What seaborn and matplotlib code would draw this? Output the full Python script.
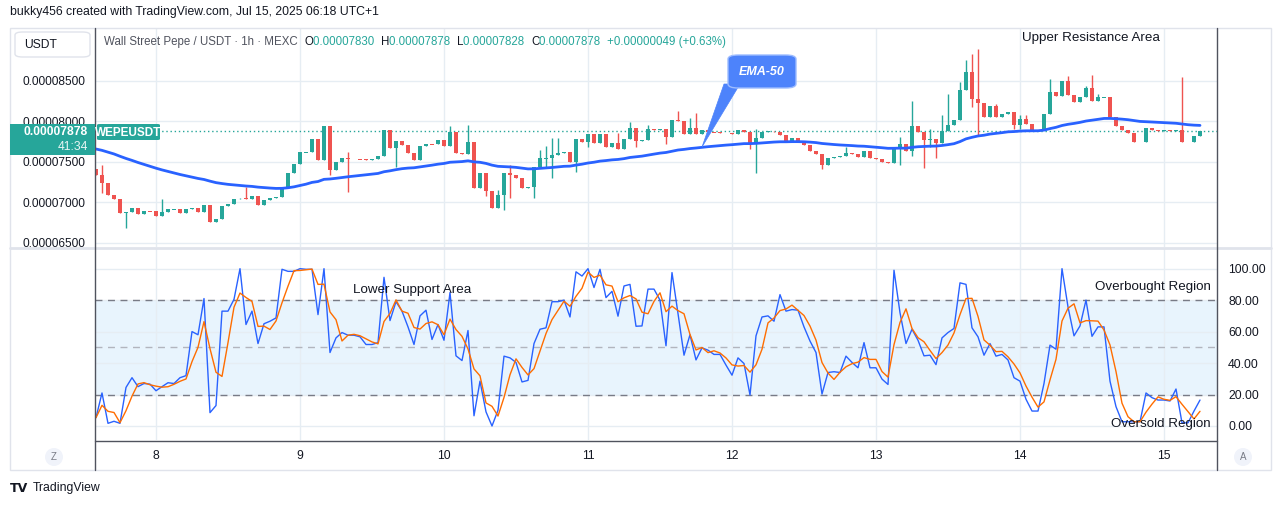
import numpy as np
import pandas as pd
import matplotlib
matplotlib.use("Agg")
import matplotlib.pyplot as plt
import seaborn as sns
from matplotlib.patches import Rectangle, FancyBboxPatch, Polygon, Ellipse
from matplotlib.lines import Line2D

W, H = 1281, 505
SCALE = 1e-8  # prices below are in units of 1e-8 USDT

# ---- data (WEPE/USDT 1h, MEXC) ----
first_open = 7410
closes = [
    7339, 7237, 7088, 7043, 6870, 6882, 6932, 6857, 6894, 6890,
    6837, 6882, 6915, 6919, 6874, 6925, 6932, 6882, 6969, 6762,
    6792, 6956, 6981, 7043, 7049, 7037, 7080, 6969, 7030, 7051,
    7064, 7195, 7360, 7471, 7619, 7623, 7784, 7524, 7944, 7401,
    7503, 7553, 7537, 7535, 7533, 7530, 7540, 7574, 7895, 7669,
    7759, 7710, 7607, 7524, 7697, 7722, 7716, 7771, 7697, 7866,
    7607, 7600, 7743, 7182, 7368, 7145, 6935, 7092, 7360, 7339,
    7298, 7182, 7195, 7442, 7545, 7550, 7586, 7615, 7620, 7503,
    7780, 7743, 7842, 7738, 7842, 7689, 7738, 7657, 7780, 7916,
    7763, 7771, 7903, 7898, 7905, 7812, 8015, 8007, 7846, 7916,
    7842, 7895, 7870, 7866, 7862, 7858, 7842, 7895, 7870, 7731,
    7800, 7874, 7878, 7870, 7833, 7750, 7792, 7750, 7706, 7640,
    7598, 7463, 7553, 7565, 7578, 7615, 7598, 7565, 7640, 7545,
    7540, 7503, 7491, 7681, 7722, 7640, 7944, 7874, 7771, 7780,
    7731, 7886, 7957, 8015, 8389, 8607, 8278, 8225, 8060, 8191,
    8052, 8092, 8121, 7957, 8027, 7965, 7886, 7895, 8092, 8368,
    8315, 8500, 8327, 8244, 8307, 8410, 8257, 8298, 8302, 8052,
    7944, 7895, 7854, 7750, 7745, 7916, 7895, 7886, 7890, 7880,
    7895, 7750, 7745, 7821, 7878,
]
# long wicks
hi_idx = [1, 11, 25, 42, 59, 62, 67, 69, 74, 75, 76, 77, 87, 89, 92, 97, 99, 100,
          110, 125, 134, 136, 139, 141, 142, 144, 145, 146, 147, 150, 154, 155,
          159, 162, 165, 166, 167, 181]
hi_val = [7463, 7043, 7195, 7627, 7944, 7957, 7154, 7463, 7648, 7697, 7796, 7796,
          7862, 7990, 7957, 8134, 8047, 8101, 7907, 7681, 7812, 8257, 7907, 8080,
          8339, 8492, 8759, 8829, 8895, 8216, 8080, 8080, 8520, 8566, 8442, 8574,
          8336, 8553]
lo_idx = [1, 5, 39, 42, 50, 65, 68, 69, 73, 75, 76, 80, 82, 90, 95, 109, 110, 121,
          134, 136, 138, 139, 140, 146, 147, 153, 154]
lo_val = [7120, 6685, 7339, 7133, 7442, 7080, 6907, 7055, 7055, 7442, 7302, 7380,
          7685, 7685, 7718, 7660, 7367, 7410, 7463, 7574, 7422, 7681, 7553, 8183,
          7821, 7903, 7903]
ema_seed = 7673  # EMA-50 value at the first visible bar

stoch_k = [
    5.3, 21, 1.7, 3, 1.7, 24.5, 30.7, 25, 27, 26.6,
    22.4, 25, 27.5, 27, 30.7, 32, 60, 58, 81, 8.5,
    13, 73, 73, 80.5, 100, 64.5, 73, 52.4, 65, 66.6,
    68.7, 99.6, 98.3, 98.3, 100, 99.6, 99.6, 70.8, 100, 46.7,
    56, 59.4, 57.7, 57.7, 56.7, 51.8, 51.8, 53, 94.5, 67,
    79, 73, 63, 51.8, 70, 73.6, 55, 64.5, 54.5, 84.8,
    44.6, 41.6, 60.7, 6.5, 28.5, 9, 0, 10, 44.4, 43.3,
    40.4, 28, 29, 52.4, 61.5, 62.4, 79, 79, 80, 69.3,
    98, 95.3, 100, 88, 99.6, 81.6, 85.6, 69.8, 89, 90,
    63.4, 63.6, 87, 87, 80, 51, 97.5, 71.5, 45, 58,
    42, 49.7, 48.2, 45.5, 45.5, 38.7, 32.3, 43.3, 39.7, 19.7,
    57.3, 69.3, 70, 66.6, 83.5, 73, 74, 73.6, 63, 54,
    46.7, 20.3, 34, 34.5, 34, 44.4, 40.4, 37, 53, 37,
    37, 29.8, 26.4, 99, 72, 52.4, 61.5, 54.5, 44.6, 45,
    39, 56, 59.4, 62, 91, 90, 62.4, 56.7, 45, 52.4,
    44.4, 45.5, 42, 30.7, 28.5, 17, 9.5, 9.5, 27, 51.4,
    48.8, 100, 75.7, 57.3, 63.6, 80, 57, 63, 63, 28.5,
    12.3, 2.7, 2.7, 2.7, 2.7, 21, 18, 16.5, 16.5, 15.9,
    23.5, 2, 2, 9.5, 16.5,
]

day_ticks = [10, 34, 58, 82, 106, 130, 154, 178]
day_labels = ["8", "9", "10", "11", "12", "13", "14", "15"]
price_ticks = [6500, 7000, 7500, 8000, 8500]
stoch_ticks = [0, 20, 40, 60, 80, 100]
last_price = 7878

UP, DOWN = "#26a69a", "#ef5350"
BLUE, ORANGE = "#2962ff", "#ff6d00"
GRID = "#e6edf3"
TXT = "#131722"

sns.set_theme(style="white")
plt.rcParams["font.family"] = ["Liberation Sans", "DejaVu Sans"]


def fx(px):
    return px / W


def fy(py):
    return 1 - py / H


fig = plt.figure(figsize=(W / 100, H / 100), dpi=100)
fig.patch.set_facecolor("white")

# ---- candles ----
n = len(closes)
x = np.arange(n)
c = np.array(closes, dtype=float)
o = np.array([first_open] + closes[:-1], dtype=float)
hi = np.maximum(o, c)
lo = np.minimum(o, c)
hi[hi_idx] = hi_val
lo[lo_idx] = lo_val
cols = np.where(c >= o, UP, DOWN)
ema = pd.Series([ema_seed] + closes, dtype=float).ewm(span=50, adjust=False).mean().values[1:]

ax = fig.add_axes([fx(95), fy(247), (1217 - 95) / W, (247 - 28) / H])
ax.set_xlim(-1 / 6, (1217 - 96) / 6)
ax.set_ylim(6450 * SCALE, 9154 * SCALE)
ax.set_facecolor("white")
for s in ax.spines.values():
    s.set_visible(False)
ax.set_xticks(day_ticks)
ax.set_xticklabels([])
ax.set_yticks([p * SCALE for p in price_ticks])
ax.set_yticklabels([f"{p * SCALE:.8f}" for p in price_ticks], fontsize=8.6, color=TXT)
ax.tick_params(axis="both", length=0, pad=7)
ax.grid(True, color=GRID, lw=1)
ax.set_axisbelow(True)

ax.vlines(x, lo * SCALE, hi * SCALE, colors=cols, lw=1, zorder=2)
body = np.maximum(np.abs(c - o), 9)
ax.bar(x, body * SCALE, bottom=(np.minimum(o, c) - np.where(np.abs(c - o) < 9, 4, 0)) * SCALE,
       width=0.7, color=cols, linewidth=0, zorder=3)
sns.lineplot(x=x, y=ema * SCALE, ax=ax, color=BLUE, lw=2, zorder=4, legend=False)
ax.axhline(last_price * SCALE, color=UP, lw=1, ls=(0, (1, 2)), zorder=1)
ax.set_xlabel("")
ax.set_ylabel("")

# ---- stochastic ----
k = pd.Series(stoch_k)
d = k.rolling(3, min_periods=1).mean()
ax2 = fig.add_axes([fx(95), fy(440), (1217 - 95) / W, (440 - 249) / H])
ax2.set_xlim(-1 / 6, (1217 - 96) / 6)
ax2.set_ylim(-8.9, 112.5)
ax2.set_facecolor("white")
for s in ax2.spines.values():
    s.set_visible(False)
ax2.set_yticks(stoch_ticks)
ax2.yaxis.tick_right()
ax2.set_yticklabels([f"{v:.2f}" for v in stoch_ticks], fontsize=8.8, color=TXT)
ax2.set_xticks(day_ticks)
ax2.set_xticklabels(day_labels, fontsize=8.7, color=TXT)
ax2.tick_params(axis="y", length=0, pad=8)
ax2.tick_params(axis="x", length=0, pad=7.5)
ax2.grid(True, color=GRID, lw=1)
ax2.set_axisbelow(True)
ax2.axhspan(20, 80, color="#2196f3", alpha=0.1, lw=0, zorder=0.5)
for lvl, lc in [(80, "#787b86"), (50, "#b2b5be"), (20, "#787b86")]:
    ax2.axhline(lvl, color=lc, lw=1, ls=(0, (5, 4)), zorder=1)
sns.lineplot(x=x, y=k.values, ax=ax2, color=BLUE, lw=1, zorder=3, legend=False)
sns.lineplot(x=x, y=d.values, ax=ax2, color=ORANGE, lw=1, zorder=3, legend=False)
ax2.set_xlabel("")
ax2.set_ylabel("")

# ---- frame / separators ----
fig.add_artist(Rectangle((fx(10), fy(470)), (1271 - 10) / W, (470 - 28) / H, transform=fig.transFigure,
                         fill=False, ec="#e0e3eb", lw=1, zorder=5))
fig.add_artist(Line2D([fx(10), fx(1271)], [fy(248), fy(248)], color="#e0e3eb", lw=2, zorder=5))
for px in (95, 1217):
    fig.add_artist(Line2D([fx(px), fx(px)], [fy(28), fy(470)], color="#50535e", lw=1, zorder=6))
fig.add_artist(Line2D([fx(95), fx(1217)], [fy(441), fy(441)], color="#50535e", lw=1, zorder=6))

# ---- header ----
fig.text(fx(10), fy(12), "bukky456 created with TradingView.com, Jul 15, 2025 06:18 UTC+1",
         fontsize=8.8, color=TXT, va="center", ha="left")
fig.add_artist(FancyBboxPatch((fx(15), fy(57)), (90 - 15) / W, (57 - 32) / H, transform=fig.transFigure,
                              boxstyle="round,pad=0,rounding_size=0.006", fc="white", ec="#e0e3eb",
                              lw=1, zorder=7))
fig.text(fx(24), fy(45), "USDT", fontsize=8.7, color=TXT, va="center", ha="left", zorder=8)

renderer = fig.canvas.get_renderer()
pieces = [("Wall Street Pepe / USDT · 1h · MEXC  ", "#50535e"),
          ("O", TXT), ("0.00007830  ", UP), ("H", TXT), ("0.00007878  ", UP),
          ("L", TXT), ("0.00007828  ", UP), ("C", TXT), ("0.00007878  ", UP),
          ("+0.00000049 (+0.63%)", UP)]
cx = 104
for s, col in pieces:
    t = fig.text(fx(cx), fy(42), s, fontsize=8.3, color=col, va="center", ha="left", zorder=8)
    cx = t.get_window_extent(renderer).x1

# ---- last price badge ----
fig.add_artist(Rectangle((fx(10), fy(155)), (95 - 10) / W, (155 - 124) / H, transform=fig.transFigure,
                         fc=UP, ec="none", zorder=9))
fig.text(fx(88), fy(132), f"{last_price * SCALE:.8f}", fontsize=8.7, color="white",
         fontweight="bold", va="center", ha="right", zorder=10)
fig.text(fx(88), fy(147), "41:34", fontsize=8.7, color="#e8f6f4", va="center", ha="right", zorder=10)
fig.add_artist(FancyBboxPatch((fx(97), fy(140)), (160 - 97) / W, (140 - 124) / H, transform=fig.transFigure,
                              boxstyle="round,pad=0,rounding_size=0.002", fc=UP, ec="none", zorder=9))
fig.text(fx(128.5), fy(132.5), "WEPEUSDT", fontsize=8.5, color="white", fontweight="bold",
         va="center", ha="center", zorder=10)

# ---- EMA-50 callout ----
fig.add_artist(Polygon([(fx(724), fy(84)), (fx(740), fy(84)), (fx(702), fy(147))], closed=True,
                       transform=fig.transFigure, fc="#4d83fb", ec="#4d83fb", lw=0.5, zorder=9))
fig.add_artist(FancyBboxPatch((fx(728), fy(88)), (796 - 728) / W, (88 - 55) / H, transform=fig.transFigure,
                              boxstyle="round,pad=0,rounding_size=0.008", fc="#4d83fb", ec="#9dbcff",
                              lw=1, zorder=9))
fig.text(fx(762), fy(72), "EMA-50", fontsize=9, color="white", fontweight="bold", fontstyle="italic",
         va="center", ha="center", zorder=10)

# ---- annotations ----
fig.text(fx(1091), fy(38), "Upper Resistance Area", fontsize=9.6, color=TXT, va="center", ha="center", zorder=8)
fig.text(fx(412), fy(290), "Lower Support Area", fontsize=9.6, color=TXT, va="center", ha="center", zorder=8)
fig.text(fx(1211), fy(287), "Overbought Region", fontsize=9.6, color=TXT, va="center", ha="right", zorder=8)
fig.text(fx(1211), fy(424), "Oversold Region", fontsize=9.6, color=TXT, va="center", ha="right", zorder=8)

# ---- bottom strip ----
for px, letter in [(54, "Z"), (1243, "A")]:
    fig.add_artist(Ellipse((fx(px), fy(457)), 18 / W, 18 / H, transform=fig.transFigure, fc="#f0f3fa",
                           ec="none", zorder=7))
    fig.text(fx(px), fy(457), letter, fontsize=7, color="#787b86", va="center", ha="center", zorder=8)

fig.text(fx(10), fy(488), "TV", fontsize=9, color=TXT, fontweight="bold", va="center", ha="left",
         family="DejaVu Sans")
fig.text(fx(33), fy(488), "TradingView", fontsize=8.8, color=TXT, va="center", ha="left")

fig.savefig("out.png", dpi=100, facecolor="white")
